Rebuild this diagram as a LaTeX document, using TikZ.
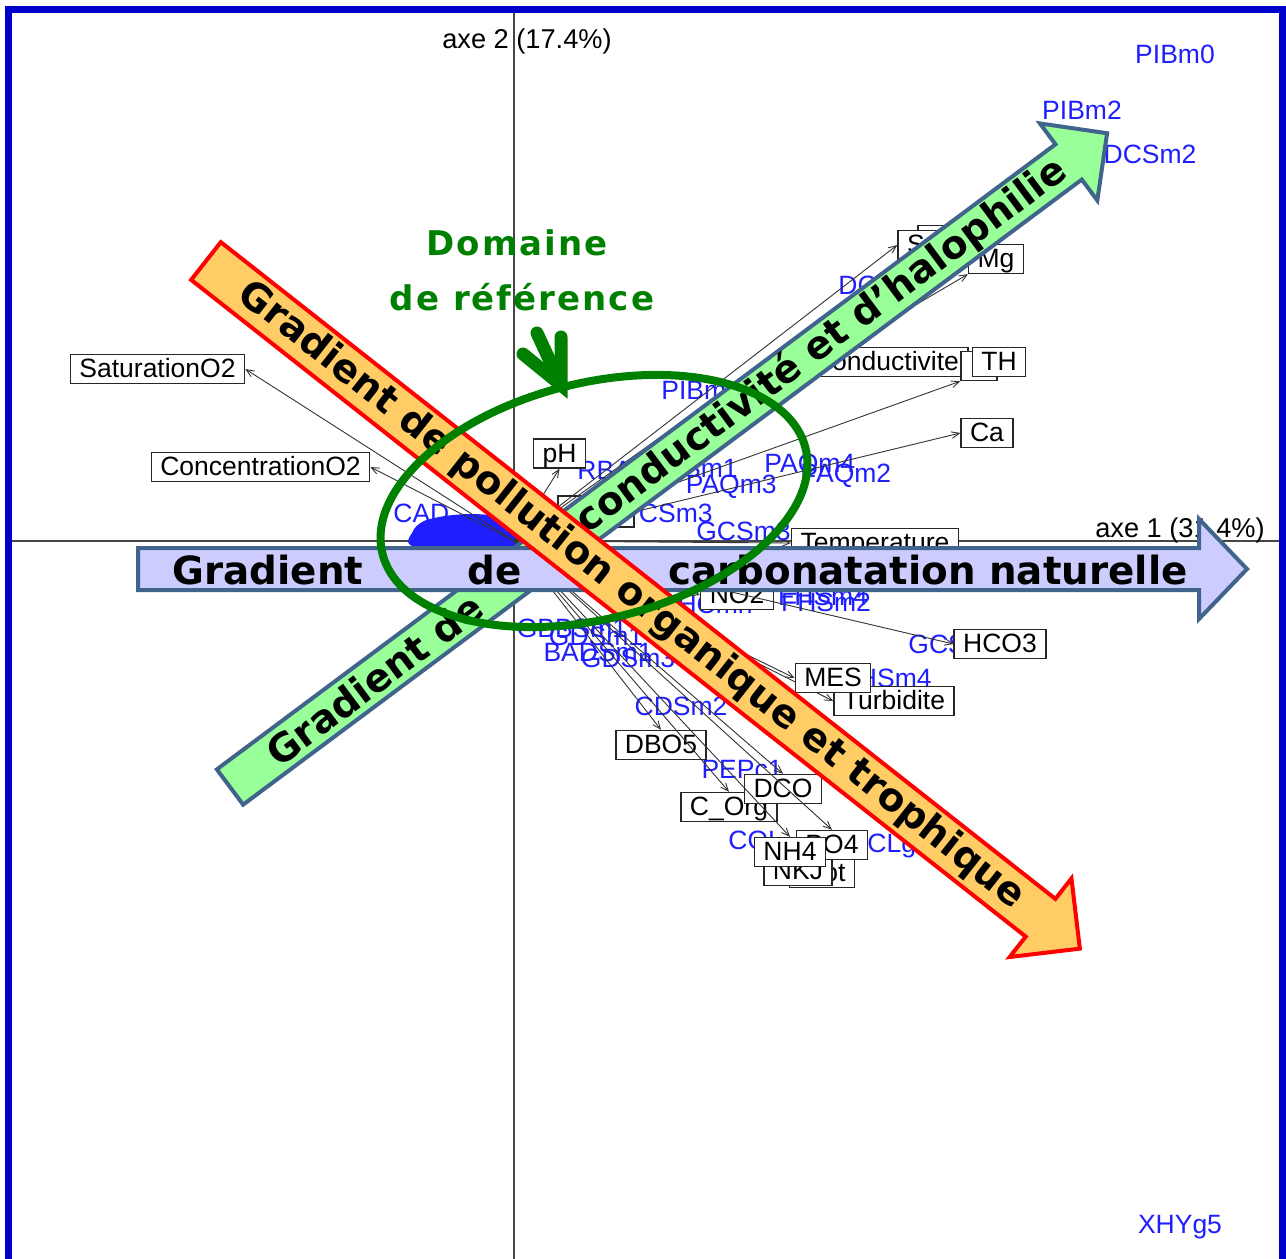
\documentclass[tikz,border=0pt]{standalone}
\usepackage{fontspec}
\setmainfont{Liberation Sans}
\newfontfamily\gradfont{DejaVu Sans}
\newfontfamily\domfont[LetterSpace=6]{DejaVu Sans}
\usetikzlibrary{arrows}

\definecolor{cadre}{RGB}{0,0,205}
\definecolor{espblue}{RGB}{30,30,255}
\definecolor{axegris}{RGB}{70,70,70}
\definecolor{ardoise}{RGB}{65,100,140}
\definecolor{lavande}{RGB}{204,204,255}
\definecolor{vertclair}{RGB}{153,255,153}
\definecolor{orangeclair}{RGB}{255,204,102}
\definecolor{vertfonce}{RGB}{0,128,0}

\begin{document}
\begin{tikzpicture}[x=0.5pt,y=-0.5pt,>=angle 45]
            \tikzstyle{var}=[draw=black!85,fill=white,line width=0.7pt,inner xsep=4.5pt,inner ysep=0pt,text height=11.5pt,text depth=3pt,font=\fontsize{13.25}{15}\selectfont]
            \tikzstyle{esp}=[text=espblue,inner sep=0pt,font=\fontsize{13.25}{15}\selectfont]
            \tikzstyle{vec}=[->,draw=black!80,line width=0.45pt]
            \tikzstyle{band}=[line width=2pt,line join=miter]
            \tikzstyle{gradtext}=[inner sep=0pt,font=\gradfont\bfseries\fontsize{19.4}{23}\selectfont]
            \useasboundingbox (0,0) rectangle (1286,1259);
            \fill[white] (0,0) rectangle (1286,1259);
            % axes
            \coordinate (O) at (514,541);
            \draw[axegris,line width=1pt] (514,10) -- (514,1270);
            \draw[axegris,line width=1pt] (10,541) -- (1280,541);
            \node[inner sep=0pt,font=\fontsize{13.6}{16}\selectfont] (ax2) at (527,41) {axe 2 (17.4\%)};
            \node[inner sep=0pt,font=\fontsize{13.6}{16}\selectfont] (ax1) at (1180,530) {axe 1 (31.4\%)};
            % especes
            \node[esp] (pibm0) at (1175,54) {PIBm0};
            \node[esp] (pibm2) at (1082,110) {PIBm2};
            \node[esp] (dcsm2) at (1150,154) {DCSm2};
            \node[esp] (xhyg5) at (1180,1227) {XHYg5};
            \node[esp,anchor=west] (dc) at (838,285) {DC};
            \node[esp,anchor=west] (pib) at (661,390) {PIBm};
            \node[esp,anchor=west] (rba) at (577,470) {RBA};
            \node[esp,anchor=east] (sm1) at (738,468) {Sm1};
            \node[esp,anchor=west] (paqm4) at (764,466) {PAQm4};
            \node[esp,anchor=west] (paqm2) at (800,476) {PAQm2};
            \node[esp,anchor=east] (paqm3) at (777,487) {PAQm3};
            \node[esp,anchor=east] (csm3) at (713,513) {CSm3};
            \node[esp,anchor=east] (gcsm3) at (791,531) {GCSm3};
            \node[esp,anchor=west] (cad) at (393,513) {CAD};
            \node[esp] (gbb) at (572,628) {GBBSm1};
            \node[esp] (gds) at (596,636) {GDSm1};
            \node[esp] (bad) at (598,652) {BADSm1};
            \node[esp] (gdsb) at (628,658) {GDSm3};
            \node[esp,anchor=east] (hcmn) at (753,604) {HCmn};
            \node[esp] (fhsm4) at (823,596) {FHSm4};
            \node[esp] (fhsm2) at (826,602) {FHSm2};
            \node[esp] (cdsm2) at (681,706) {CDSm2};
            \node[esp] (pepc1) at (742,770) {PEPc1};
            \node[esp,anchor=west] (col) at (728,840) {COL};
            \node[esp,anchor=west] (clg) at (867,846) {CLg};
            \node[esp,anchor=east] (fhsm4b) at (932,678) {FHSm4};
            \node[esp,anchor=west] (gcs) at (908,644) {GCSm1};
            \fill[espblue] plot[smooth cycle] coordinates {(416,547) (413,531) (424,521) (445,516) (470,514) (495,516) (512,525) (521,547)};
            % variables
            \node[var] (sat) at (157.5,369) {SaturationO2};
            \draw[vec] (O) -- (sat.east);
            \node[var] (conc) at (260.5,467) {ConcentrationO2};
            \draw[vec] (O) -- (conc.east);
            \node[var] (ph) at (559.5,453.5) {pH};
            \draw[vec] (O) -- (ph.south);
            \node[var,minimum width=38pt,minimum height=15.5pt] (vide) at (596,511.5) {};
            \node[var,minimum width=28pt] (sb) at (946,240) {};
            \node[var,text width=22pt,align=left] (s) at (929,245) {S};
            \draw[vec] (O) -- (s.west);
            \draw[vec] (O) -- (sb.south west);
            \node[var] (mg) at (996,259) {Mg};
            \draw[vec] (O) -- (mg.south west);
            \node[var] (cond) at (886,362) {Conductivite};
            \draw[vec] (O) -- (cond.west);
            \node[var,minimum width=18pt] (thb) at (979,366) {};
            \draw[vec] (O) -- (thb.south west);
            \node[var] (th) at (999,362) {TH};
            \node[var] (ca) at (987,433) {Ca};
            \draw[vec] (O) -- (ca.west);
            \node[var] (temp) at (875,543) {Temperature};
            \draw[vec] (O) -- (temp.west);
            \node[var] (no2) at (737,595) {NO2};
            \draw[vec] (O) -- (no2.west);
            \node[var] (hco3) at (1000,644) {HCO3};
            \draw[vec] (O) -- (hco3.west);
            \node[var] (turb) at (894,701) {Turbidite};
            \draw[vec] (O) -- (turb.west);
            \node[var] (mes) at (833,678) {MES};
            \draw[vec] (O) -- (mes.west);
            \node[var] (dbo) at (661,745) {DBO5};
            \draw[vec] (O) -- (dbo.north);
            \node[var] (corg) at (729,807) {C\_Org};
            \draw[vec] (O) -- (corg.north);
            \node[var] (dco) at (783,789) {DCO};
            \draw[vec] (O) -- (dco.north);
            \node[var] (ptot) at (822,873) {Ptot};
            \node[var] (nkj) at (798,871) {NKJ};
            \node[var] (po4) at (832,845) {PO4};
            \draw[vec] (O) -- (po4.north);
            \node[var] (nh4) at (790,852) {NH4};
            \draw[vec] (O) -- (nh4.north);
            % cadre
            \draw[cadre,line width=3.5pt] (8.5,1300) -- (8.5,9) -- (1282.5,9) -- (1282.5,1300);
            % gradients
            \begin{scope}[shift={(230,787)},rotate=36.7]
            \draw[band,draw=ardoise,fill=vertclair] (0,-22) -- (1046,-22) -- (1046,-48) -- (1094,0) -- (1046,48) -- (1046,22) -- (0,22) -- cycle;
            \node[gradtext,rotate=36.7] (gcond1) at (180,0) {Gradient de};
            \node[gradtext,rotate=36.7] (gcond2) at (738,0) {conductivité et d’halophilie};
            \end{scope}
            \draw[band,draw=ardoise,fill=lavande] (138,548) -- (1199,548) -- (1199,519) -- (1247,569) -- (1199,619) -- (1199,590) -- (138,590) -- cycle;
            \node[gradtext] (gcarb1) at (268,570) {Gradient};
            \node[gradtext] (gcarb2) at (495,570) {de};
            \node[gradtext] (gcarb3) at (928,570) {carbonatation naturelle};
            \begin{scope}[shift={(206,261)},rotate=-38.2]
            \draw[band,draw=red,fill=orangeclair] (0,-24) -- (1062,-24) -- (1062,-50) -- (1112,0) -- (1062,50) -- (1062,24) -- (0,24) -- cycle;
            \node[gradtext,rotate=-38.2] (gpol) at (541,0) {Gradient de pollution organique et trophique};
            \end{scope}
            % domaine de reference
            \draw[vertfonce,line width=4pt,rotate around={14:(594,501)}] (594,501) ellipse (218 and 118);
            \node[text=vertfonce,inner sep=0pt,font=\domfont\bfseries\fontsize{17}{20}\selectfont] (dom1) at (517,243) {Domaine};
            \node[text=vertfonce,inner sep=0pt,font=\domfont\bfseries\fontsize{17}{20}\selectfont] (dom2) at (522,297) {de référence};
            \draw[vertfonce,line width=6.5pt,line cap=round] (523,354) -- (561,385) -- (561,337);
            \draw[vertfonce,line width=6.5pt,line cap=round] (537,333) -- (561,385);
\end{tikzpicture}
\end{document}
